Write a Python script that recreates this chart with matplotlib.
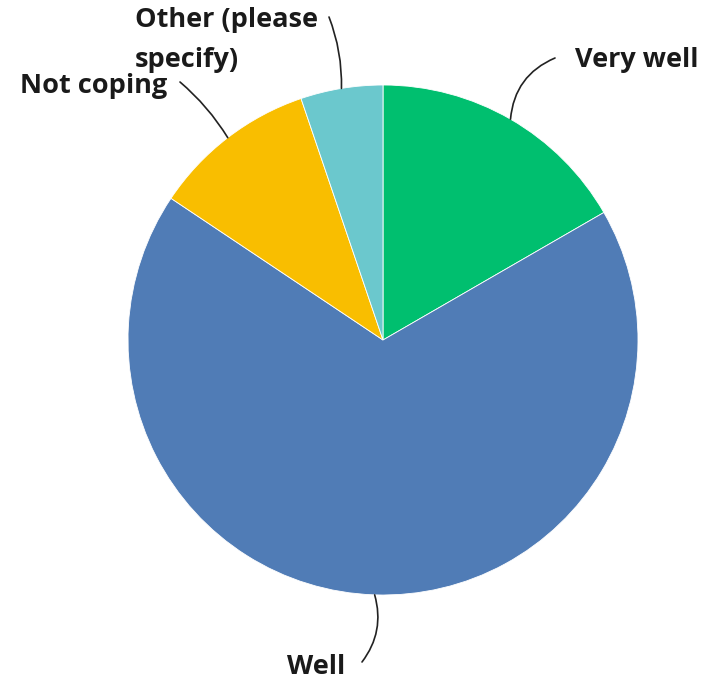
import numpy as np
import matplotlib
matplotlib.use('Agg')
from matplotlib import pyplot as plt

labels = ['Very well', 'Well', 'Not coping', 'Other (please\nspecify)']
counts = [16, 65, 10, 5]
colors = ['#00BF6F', '#507CB6', '#F9BE00', '#6BC8CD']

# label text anchors and leader line ends, in pixel coords (y from top)
text_pos = [(575, 60), (345, 667), (167, 86), (135, 40)]
line_end = [(555, 58), (362, 662), (180, 82), (329, 17)]
text_ha = ['left', 'right', 'right', 'left']
rads = [0.3, 0.25, -0.08, -0.1]
spacing = [1.63, 1.63, 1.63, 1.72]

W, H = 705, 685
fig = plt.figure(figsize=(W / 100, H / 100), dpi=100)
ax = fig.add_axes([0, 0, 1, 1])

cx, cy, r = 383, H - 340, 255
wedges, _ = ax.pie(counts, colors=colors, startangle=90, counterclock=False,
                   center=(cx, cy), radius=r, frame=True,
                   wedgeprops=dict(edgecolor='white', linewidth=0.6))
ax.set_xlim(0, W)
ax.set_ylim(0, H)
ax.set_aspect('equal')
ax.axis('off')

for i, w in enumerate(wedges):
    mid = np.deg2rad((w.theta1 + w.theta2) / 2)
    px, py = cx + r * np.cos(mid), cy + r * np.sin(mid)
    ex, ey = line_end[i]
    ax.annotate('', xy=(px, py), xytext=(ex, H - ey),
                arrowprops=dict(arrowstyle='-', color='#222222', lw=1.2,
                                connectionstyle=f'arc3,rad={rads[i]}',
                                shrinkA=0, shrinkB=0))
    tx, ty = text_pos[i]
    ax.text(tx, H - ty, labels[i], ha=text_ha[i], va='center', fontsize=19.5,
            fontweight='bold', family='Open Sans', color='#1a1a1a',
            linespacing=spacing[i])

fig.savefig('out.png', dpi=100)
